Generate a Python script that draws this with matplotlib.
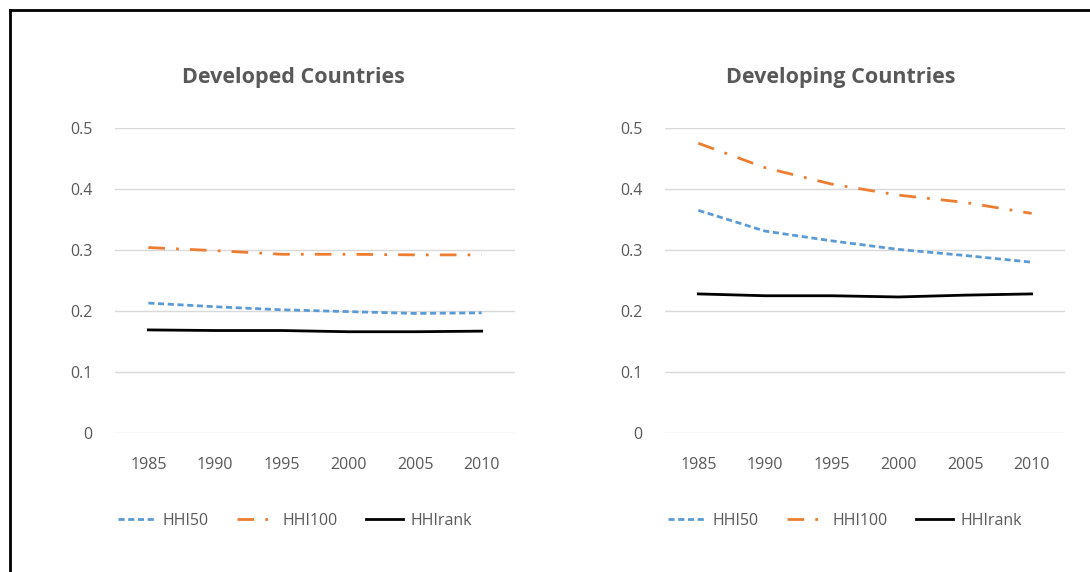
import matplotlib.pyplot as plt
from matplotlib.lines import Line2D

years = ['1985', '1990', '1995', '2000', '2005', '2010']

dev_hhi50 = [0.213, 0.207, 0.202, 0.199, 0.196, 0.197]
dev_hhi100 = [0.304, 0.299, 0.293, 0.293, 0.292, 0.292]
dev_hhirank = [0.169, 0.168, 0.168, 0.166, 0.166, 0.167]

dvg_hhi50 = [0.365, 0.331, 0.315, 0.301, 0.291, 0.280]
dvg_hhi100 = [0.475, 0.435, 0.408, 0.390, 0.378, 0.360]
dvg_hhirank = [0.228, 0.225, 0.225, 0.223, 0.226, 0.228]

titles = ['Developed Countries', 'Developing Countries']
yticks = [0, 0.1, 0.2, 0.3, 0.4, 0.5]
ytick_labels = ['0', '0.1', '0.2', '0.3', '0.4', '0.5']

blue = '#5B9BD5'
orange = '#ED7D31'
grey = '#595959'

plt.rcParams['font.family'] = ['Open Sans', 'DejaVu Sans']

W, H = 1090, 572
fig = plt.figure(figsize=(W / 100, H / 100), dpi=100)

# black frame on left/top, like the cropped screenshot
fig.add_artist(Line2D([10 / W, 1], [1 - 10 / H, 1 - 10 / H], color='black', lw=2,
                      transform=fig.transFigure))
fig.add_artist(Line2D([10 / W, 10 / W], [0, 1 - 10 / H], color='black', lw=2,
                      transform=fig.transFigure))

panels = [
    (115, 293, titles[0], dev_hhi50, dev_hhi100, dev_hhirank),
    (665, 841, titles[1], dvg_hhi50, dvg_hhi100, dvg_hhirank),
]

for x0, tx, title, s50, s100, srank in panels:
    # plot area: x0..x0+400, y 128 (0.5) .. 433 (0)
    ax = fig.add_axes([x0 / W, 1 - 433 / H, 400 / W, (433 - 128) / H])
    x = list(range(len(years)))
    l1, = ax.plot(x, s50, color=blue, lw=2, ls=(0, (2.2, 1.3)))
    l2, = ax.plot(x, s100, color=orange, lw=2, ls=(0, (6, 4, 1, 4)))
    l3, = ax.plot(x, srank, color='black', lw=2)

    ax.set_xlim(-0.5, len(years) - 0.5)
    ax.set_ylim(0, 0.5)
    ax.set_yticks(yticks)
    ax.set_yticklabels(ytick_labels)
    ax.set_xticks(x)
    ax.set_xticklabels(years)
    ax.grid(axis='y', color='#D9D9D9', lw=1)
    ax.set_axisbelow(True)
    for s in ax.spines.values():
        s.set_visible(False)
    ax.tick_params(length=0, colors=grey, labelsize=11.5)
    ax.tick_params(axis='y', pad=16)
    ax.tick_params(axis='x', pad=17)

    fig.text(tx / W, 1 - 77 / H, title, ha='center', va='center',
             fontsize=15.5, fontweight='bold', color=grey)

    ax.legend([l1, l2, l3], ['HHI50', 'HHI100', 'HHIrank'],
              loc='center', bbox_to_anchor=(180 / 400, (433 - 521) / 305),
              ncol=3, frameon=False, fontsize=11.5, labelcolor=grey,
              handlelength=2.3, handletextpad=0.5, columnspacing=1.8)

fig.savefig('out.png', dpi=100)
